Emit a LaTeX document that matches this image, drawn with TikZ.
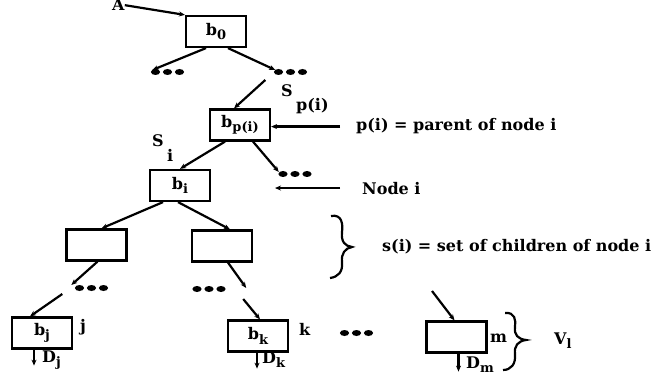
\documentclass[tikz,border=0pt]{standalone}
\usepackage{fontspec}
\setmainfont{DejaVu Serif}[BoldFont={DejaVu Serif Bold}]
\usetikzlibrary{arrows.meta,calc}
% lowered subscript used in all labels
\newcommand\sbx[1]{\raisebox{-4.5pt}{\fontsize{13}{13}\selectfont #1}}
\tikzset{
  txt/.style={inner sep=0pt, font=\bfseries\fontsize{16}{16}\selectfont},
  box/.style={txt, draw, line width=2.2pt, minimum width=60pt, minimum height=31pt},
  conn/.style={line width=2.2pt, -{Stealth[length=6pt,width=5pt]}},
  dotsrow/.style={minimum width=36pt, minimum height=7pt, inner sep=0pt,
    path picture={\foreach \dx in {-12,0,12}
      \fill ([xshift=\dx pt]path picture bounding box.center)
        ellipse [x radius=4.6pt, y radius=3pt];}},
  brc/.style={line width=2.2pt}
}
\begin{document}
\begin{tikzpicture}[x=1pt,y=-1pt]
\useasboundingbox (0,0) rectangle (666,390);

% boxes
\node[box] (b0) at (216,31.5) {b\sbx{0}};
\node[box] (bp) at (240,125) {b\sbx{p(i)}};
\node[box] (bi) at (180,185.5) {b\sbx{i}};
\node[box] (c1) at (96.5,245) {};
\node[box] (c2) at (222,246) {};
\node[box] (bj) at (42,333) {b\sbx{j}};
\node[box] (bk) at (258,336) {b\sbx{k}};
\node[box] (bm) at (456.5,337) {};

% rows of dots
\node[dotsrow] (d1) at (167.5,72) {};
\node[dotsrow] (d2) at (290.5,72) {};
\node[dotsrow] (d3) at (295,174) {};
\node[dotsrow] (d4) at (91.5,288) {};
\node[dotsrow] (d5) at (209,289) {};
\node[dotsrow] (d6) at (356.5,333) {};

% labels
\node[txt, anchor=base west] (A) at (112,11) {A};
\node[txt, anchor=base west] (Sp) at (281,97) {S};
\node[txt, anchor=base west] (Spi) at (296,111) {p(i)};
\node[txt, anchor=base west] (Si) at (152,147) {S};
\node[txt, anchor=base west] (Sii) at (167,162) {i};
\node[txt, anchor=base west] (par) at (356,131) {p(i) = parent of node i};
\node[txt, anchor=base west] (ndi) at (362,194) {Node i};
\node[txt, anchor=base west] (chl) at (382,251) {s(i) = set of children of node i};
\node[txt, anchor=base west] (lj) at (80,331) {j};
\node[txt, anchor=base west] (lk) at (299,335) {k};
\node[txt, anchor=base west] (lm) at (490,342) {m};
\node[txt, anchor=base west] (Dj) at (42,362) {D\sbx{j}};
\node[txt, anchor=base west] (Dk) at (262,363) {D\sbx{k}};
\node[txt, anchor=base west] (Dm) at (466,368) {D\sbx{m}};
\node[txt, anchor=base west] (Vl) at (554,344) {V\sbx{l}};

% free ends of the pointer arrows
\coordinate (pa) at ($(par.west)+(-16,0)$);
\coordinate (na) at ($(ndi.west)+(-22,0)$);
\coordinate (ma) at (432,291);

% tree edges
\draw[conn] (A.east) -- (b0.north west);
\draw[conn] ($(b0.south)+(-10,0)$) -- ($(d1.west)+(3,-2)$);
\draw[conn] ($(b0.south)+(12,0)$) -- ($(d2.west)+(3,-2)$);
\draw[conn] ($(d2.west)+(-7,8)$) -- ($(bp.north)+(-6,0)$);
\draw[conn] ($(bp.south)+(-15,0)$) -- ($(bi.north)+(0,0)$);
\draw[conn] ($(bp.south)+(13,0)$) -- ($(d3.west)+(2,-2)$);
\draw[conn] (pa) -- (pa -| bp.east);
\draw[conn] (na) -- ++(-65,0);
\draw[conn] ($(bi.south)+(-17,0)$) -- ($(c1.north)+(5,0)$);
\draw[conn] ($(bi.south)+(-2,0)$) -- ($(c2.north)+(8,0)$);
\draw[conn] ($(c1.south)+(1,0)$) -- ($(d4.west)+(-2,-3)$);
\draw[conn] ($(c2.south)+(6,0)$) -- ($(d5.east)+(19,-1)$);
\draw[conn] ($(d4.west)+(-11,6)$) -- ($(bj.north)+(-12,0)$);
\draw[conn] ($(d5.east)+(16,10)$) -- ($(bk.north)+(2,0)$);
\draw[conn] (ma) -- ($(bm.north)+(-2,0)$);

% outputs D
\draw[conn] ($(bj.south)+(-8,0)$) -- ++(0,16);
\draw[conn] ($(bk.south)+(-1,0)$) -- ++(0,16);
\draw[conn] ($(bm.south)+(2,0)$) -- ++(0,18);

% braces
\draw[brc] (331,216) .. controls (342,214) and (343,224) .. (342,232)
  .. controls (341,242) and (345,246) .. (352,247)
  .. controls (345,248) and (341,254) .. (342,262)
  .. controls (343,272) and (338,277) .. (330,278);
\draw[brc] (505,313) .. controls (515,312) and (516,320) .. (515,327)
  .. controls (514,335) and (518,339) .. (526,340)
  .. controls (518,341) and (514,346) .. (515,354)
  .. controls (516,364) and (511,370) .. (503,370);
\end{tikzpicture}
\end{document}
